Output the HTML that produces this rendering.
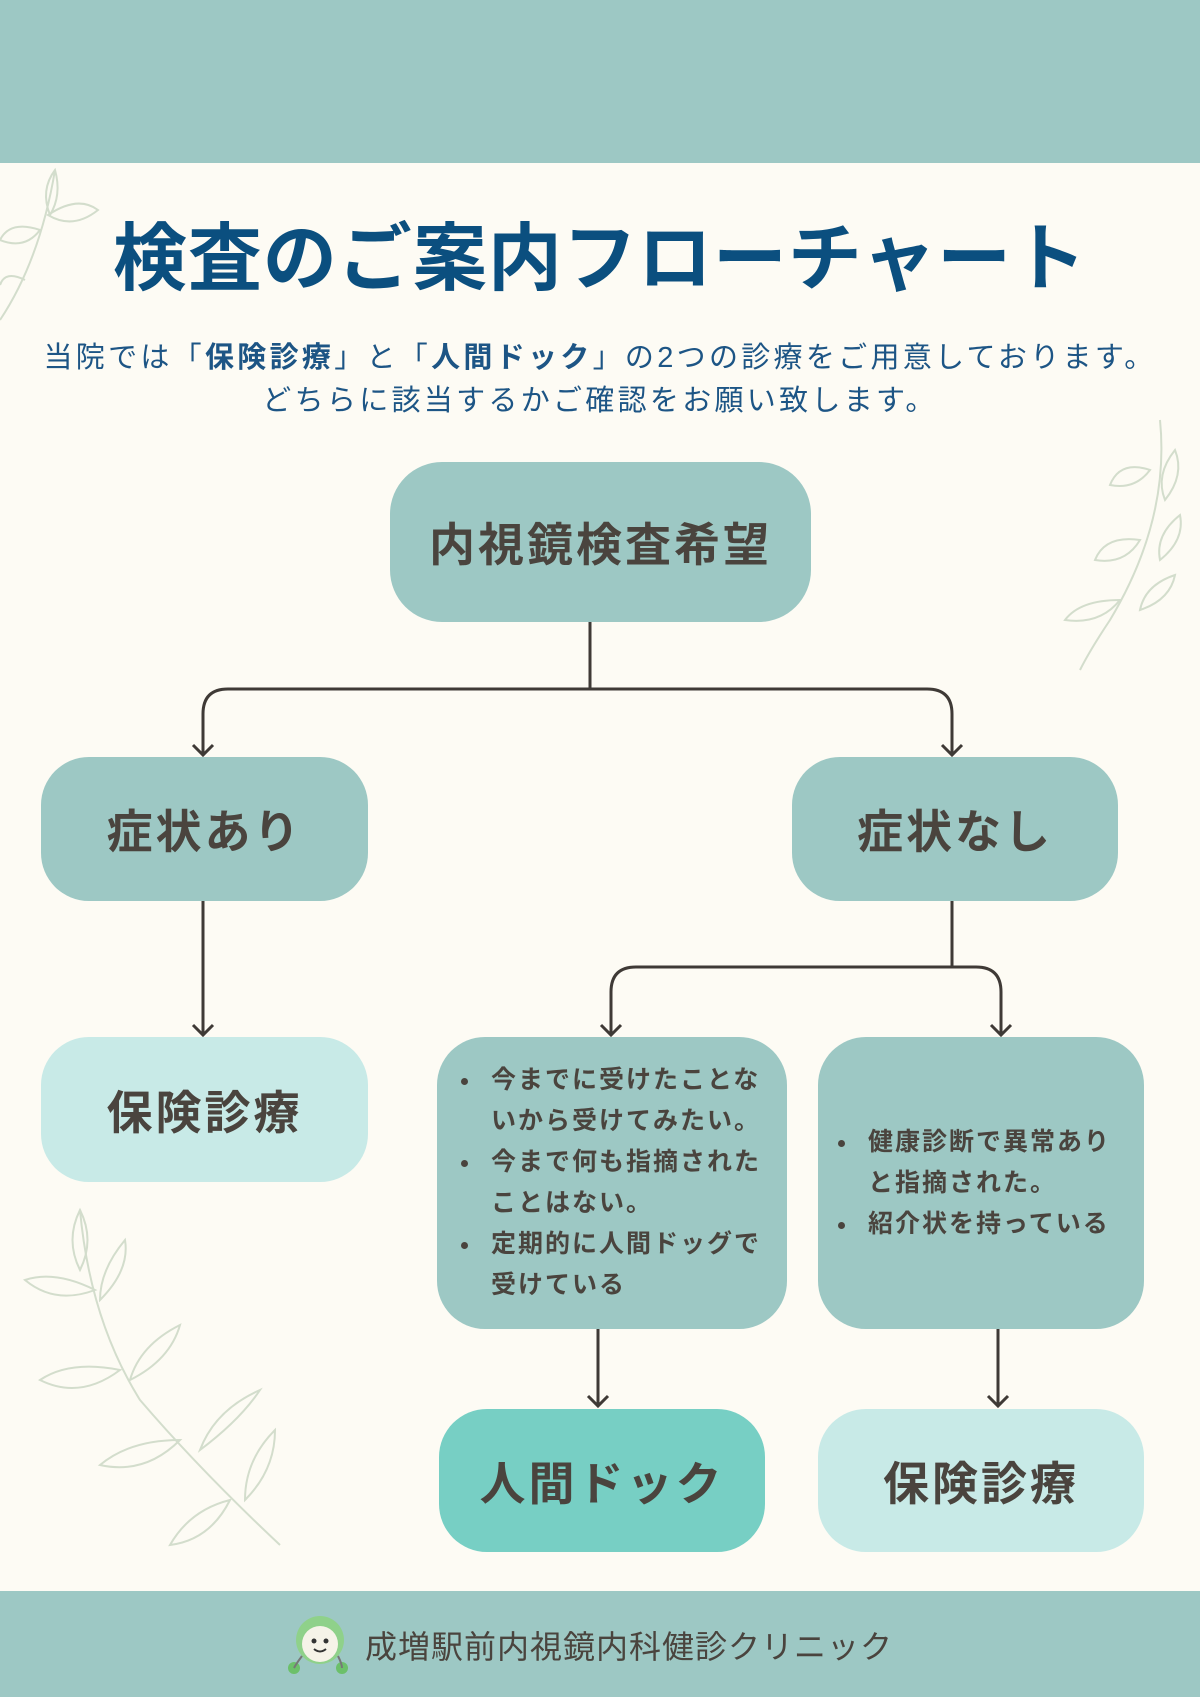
<!DOCTYPE html>
<html><head><meta charset="utf-8"><style>
*{margin:0;padding:0;box-sizing:border-box}
body{width:1200px;height:1697px;background:#fdfbf4;position:relative;overflow:hidden;font-family:"Liberation Sans","Noto Sans CJK JP",sans-serif;color:#4a443e}
.band{position:absolute;left:0;width:1200px;background:#9dc8c4}
.box{position:absolute;display:flex;align-items:center;justify-content:center;font-weight:bold;font-size:46px;letter-spacing:3px;border-radius:48px;background:#9dc8c4}
.light{background:#c8eae7}
.t{position:absolute;left:0;width:1200px;text-align:center}
ul{list-style:none;font-size:25px;font-weight:bold;line-height:41px;letter-spacing:2px}
li{position:relative;padding-left:40px}
li:before{content:"";position:absolute;left:10px;top:18px;width:7px;height:7px;border-radius:50%;background:#4a443e}
</style></head><body>
<div class="band" style="top:0;height:163px"></div>
<div class="band" style="top:1591px;height:106px"></div>

<svg width="1200" height="1697" style="position:absolute;left:0;top:0" fill="none" stroke="#d3ddcc" stroke-width="2">
<path d="M0 320 Q40 260 55 170"/><path d="M55 170 q-15 20 -5 45 q12-20 5-45z"/><path d="M40 230 q-30-10 -40 10 q25 10 40-10z"/><path d="M48 215 q30-20 50-5 q-25 20 -50 5z"/><path d="M25 280 q-20-10 -25 5"/>
<path d="M1160 420 Q1170 520 1110 620 Q1090 650 1080 670"/><path d="M1150 470 q-30-10-40 15 q25 5 40-15z"/><path d="M1165 500 q20-25 10-50 q-20 25 -10 50z"/><path d="M1140 540 q-35-5-45 20 q30 5 45-20z"/><path d="M1160 560 q25-20 20-45 q-25 20-20 45z"/><path d="M1120 600 q-40 0-55 20 q35 5 55-20z"/><path d="M1140 610 q30-10 35-35 q-30 10-35 35z"/>
<path d="M280 1545 Q200 1470 140 1400 Q90 1320 80 1210"/><path d="M80 1210 q-15 30 0 60 q15-30 0-60z"/><path d="M95 1290 q-40-20-70-10 q30 25 70 10z"/><path d="M100 1300 q30-30 25-60 q-25 30-25 60z"/><path d="M120 1370 q-50-10-80 10 q40 20 80-10z"/><path d="M130 1380 q40-20 50-55 q-40 20-50 55z"/><path d="M180 1440 q-50 0-80 25 q45 10 80-25z"/><path d="M200 1450 q40-30 60-60 q-45 20-60 60z"/><path d="M230 1500 q-40 10-60 45 q40-5 60-45z"/><path d="M245 1500 q30-30 30-70 q-30 30-30 70z"/>
</svg>

<div class="t" style="top:199px;font-size:74px;font-weight:bold;color:#0b4f7f;letter-spacing:1px">検査のご案内フローチャート</div>
<div class="t" style="top:337px;font-size:29px;color:#1d5585;line-height:43px;letter-spacing:3.3px">当院では「<b>保険診療</b>」と「<b>人間ドック</b>」の2つの診療をご用意しております。<br>どちらに該当するかご確認をお願い致します。</div>

<svg width="1200" height="1697" style="position:absolute;left:0;top:0" fill="none" stroke="#3f3a36" stroke-width="3">
<path d="M590 622 V689"/><path d="M203 755 V714 Q203 689 228 689 H927 Q952 689 952 714 V755"/>
<path d="M193 745 L203 755 L213 745"/><path d="M942 745 L952 755 L962 745"/>
<path d="M203 901 V1035"/><path d="M193 1025 L203 1035 L213 1025"/>
<path d="M952 901 V967"/><path d="M611 1035 V992 Q611 967 636 967 H976 Q1001 967 1001 992 V1035"/>
<path d="M601 1025 L611 1035 L621 1025"/><path d="M991 1025 L1001 1035 L1011 1025"/>
<path d="M598 1329 V1406"/><path d="M588 1396 L598 1406 L608 1396"/>
<path d="M998 1329 V1406"/><path d="M988 1396 L998 1406 L1008 1396"/>
</svg>

<div class="box" style="left:390px;top:462px;width:421px;height:160px;border-radius:52px">内視鏡検査希望</div>
<div class="box" style="left:41px;top:757px;width:327px;height:144px">症状あり</div>
<div class="box" style="left:792px;top:757px;width:326px;height:144px">症状なし</div>
<div class="box light" style="left:41px;top:1037px;width:327px;height:145px">保険診療</div>
<div class="box" style="left:437px;top:1037px;width:350px;height:292px;font-size:24px;justify-content:flex-start;padding-left:14px;letter-spacing:0">
<ul><li>今までに受けたことな<br>いから受けてみたい。</li><li>今まで何も指摘された<br>ことはない。</li><li>定期的に人間ドッグで<br>受けている</li></ul></div>
<div class="box" style="left:818px;top:1037px;width:326px;height:292px;font-size:24px;justify-content:flex-start;padding-left:10px;letter-spacing:0">
<ul><li>健康診断で異常あり<br>と指摘された。</li><li>紹介状を持っている</li></ul></div>
<div class="box" style="left:439px;top:1409px;width:326px;height:143px;background:#77cfc4">人間ドック</div>
<div class="box light" style="left:818px;top:1409px;width:326px;height:143px">保険診療</div>

<svg width="72" height="72" style="position:absolute;left:282px;top:1606px">
<circle cx="38" cy="34" r="24" fill="#8fd18a"/><circle cx="38" cy="38" r="18" fill="#f6f3e8"/>
<circle cx="32" cy="35" r="2.5" fill="#333"/><circle cx="44" cy="35" r="2.5" fill="#333"/>
<path d="M32 43 q6 5 12 0" stroke="#333" stroke-width="2" fill="none"/>
<circle cx="12" cy="62" r="6" fill="#6cc06a"/><circle cx="60" cy="62" r="6" fill="#6cc06a"/>
<path d="M20 50 q-6 8 -8 12 M56 50 q4 8 4 12" stroke="#777" stroke-width="2" fill="none"/>
</svg>
<div style="position:absolute;left:365px;top:1622px;font-size:32px;color:#4a443e;letter-spacing:1px">成増駅前内視鏡内科健診クリニック</div>
</body></html>
